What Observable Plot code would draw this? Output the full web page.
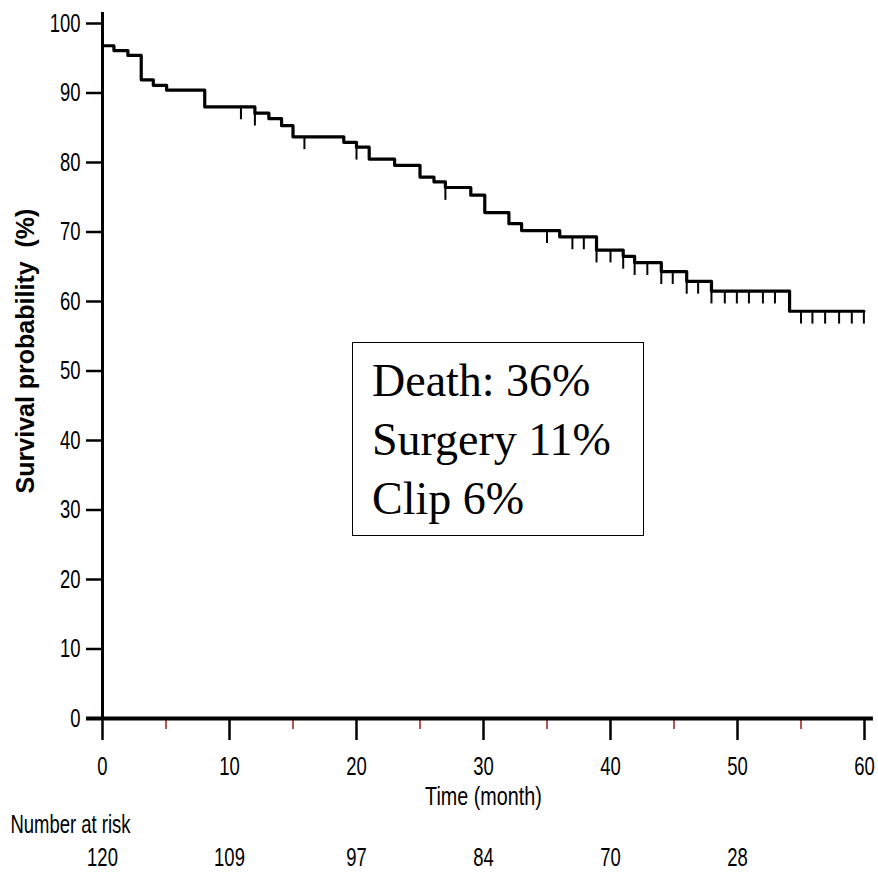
<!DOCTYPE html>
<html>
<head>
<meta charset="utf-8">
<script src="https://cdn.jsdelivr.net/npm/d3@7"></script>
<script src="https://cdn.jsdelivr.net/npm/@observablehq/plot@0.6"></script>
<style>
  html, body { margin: 0; padding: 0; background: #fff; }
  #wrap { position: relative; width: 878px; height: 878px; }
  #note {
    position: absolute; left: 352px; top: 342px; width: 292px; height: 194px;
    box-sizing: border-box; border: 1.5px solid #000; background: #fff;
    font-family: "Liberation Serif", "Times New Roman", serif; font-size: 46px;
    line-height: 59px; padding: 8px 0 0 19px; color: #000;
  }
</style>
</head>
<body>
<div id="wrap"><div id="note"><div>Death: 36%</div><div>Surgery 11%</div><div>Clip 6%</div></div></div>
<script>
// Kaplan–Meier step curve (time in months, survival %)
const stepTimes = [0, 0.9, 2.0, 3.05, 4.0, 5.05, 8.05, 12.0, 13.1, 14.1, 15.0, 19.0, 20.0, 21.0, 23.0, 25.0, 26.1, 27.0, 29.0, 30.1, 32.0, 33.0, 36.0, 38.9, 41.0, 41.9, 44.0, 46.0, 47.95, 54.1];
const stepSurv  = [96.8, 96.1, 95.4, 91.9, 91.1, 90.4, 88.0, 87.1, 86.3, 85.3, 83.7, 82.9, 82.2, 80.5, 79.6, 77.9, 77.2, 76.4, 75.3, 72.8, 71.2, 70.2, 69.3, 67.4, 66.5, 65.6, 64.3, 62.9, 61.5, 58.6];
const endTime = 59.95;
// censored observations
const censorTimes = [10.9, 12.0, 15.9, 20.0, 27.0, 35.0, 37.0, 37.9, 38.9, 40.0, 41.0, 41.9, 42.9, 44.0, 44.9, 46.0, 46.9, 47.95, 49.0, 49.95, 50.9, 52.0, 52.95, 55.0, 55.9, 56.9, 58.0, 59.0, 59.95];
// axes
const xMajorTicks = [0, 10, 20, 30, 40, 50, 60];
const xMinorTicks = [5, 15, 25, 35, 45, 55];
const yTicks = [0, 10, 20, 30, 40, 50, 60, 70, 80, 90, 100];
// number at risk
const riskTimes = [0, 10, 20, 30, 40, 50];
const riskNumbers = [120, 109, 97, 84, 70, 28];

const curve = stepTimes.map((t, i) => ({t, s: stepSurv[i]}));
curve.push({t: endTime, s: stepSurv[stepSurv.length - 1]});
function survAt(t) {
  let s = stepSurv[0];
  for (let i = 0; i < stepTimes.length; i++) if (stepTimes[i] <= t + 1e-9) s = stepSurv[i];
  return s;
}
const censors = censorTimes.map(t => ({t, s: survAt(t)}));

const plot = Plot.plot({
  width: 878, height: 878,
  marginLeft: 102, marginRight: 14, marginTop: 23, marginBottom: 160,
  style: {fontFamily: "'Liberation Sans', Arial, sans-serif", fontSize: "26px", color: "#000", background: "transparent"},
  x: {domain: [0, 60]},
  y: {domain: [0, 100]},
  marks: [
    Plot.axisY({ticks: yTicks, tickSize: 16, tickPadding: 6, strokeWidth: 2.5, label: null, fontSize: 26}),
    Plot.axisX({ticks: xMajorTicks, tickSize: 22, tickPadding: 16, strokeWidth: 2.5, label: null, fontSize: 26}),
    Plot.axisX({ticks: xMinorTicks, tickSize: 11, stroke: "#9b1c1c", strokeWidth: 1.5, tickFormat: () => "", label: null}),
    Plot.ruleX([0], {y1: 0, y2: 101.6, strokeWidth: 3}),
    Plot.ruleY([0], {x1: -1.26, x2: 60.7, strokeWidth: 4}),
    Plot.line(curve, {x: "t", y: "s", curve: "step-after", stroke: "#000", strokeWidth: 3.2}),
    Plot.ruleX(censors, {x: "t", y1: "s", y2: d => d.s - 1.85, stroke: "#000", strokeWidth: 2}),
    Plot.text(riskTimes, {x: d => d, text: (d, i) => String(riskNumbers[i]), frameAnchor: "bottom", dy: 147, fontSize: 26}),
    Plot.text(["Number at risk"], {text: d => d, frameAnchor: "bottom-left", textAnchor: "start", dx: -92, dy: 114, fontSize: 26}),
    Plot.text(["Time (month)"], {text: d => d, frameAnchor: "bottom", dy: 86, fontSize: 26}),
    Plot.text(["Survival probability  (%)"], {text: d => d, frameAnchor: "left", textAnchor: "middle", rotate: -90, dx: -77, dy: -20, fontSize: 25, fontWeight: "bold"})
  ]
});
document.getElementById("wrap").prepend(plot);
plot.style.position = "absolute";
plot.style.left = "0px";
plot.style.top = "0px";

// narrow the sans-serif glyphs as in the reference (not the rotated title)
plot.querySelectorAll("text").forEach(el => {
  const txt = el.textContent;
  if (!txt || txt.startsWith("Survival")) return;
  const w = el.getComputedTextLength();
  if (!w) return;
  const k = txt.startsWith("Time") ? 0.76 : 0.71;
  el.setAttribute("textLength", w * k);
  el.setAttribute("lengthAdjust", "spacingAndGlyphs");
});
</script>
</body>
</html>
